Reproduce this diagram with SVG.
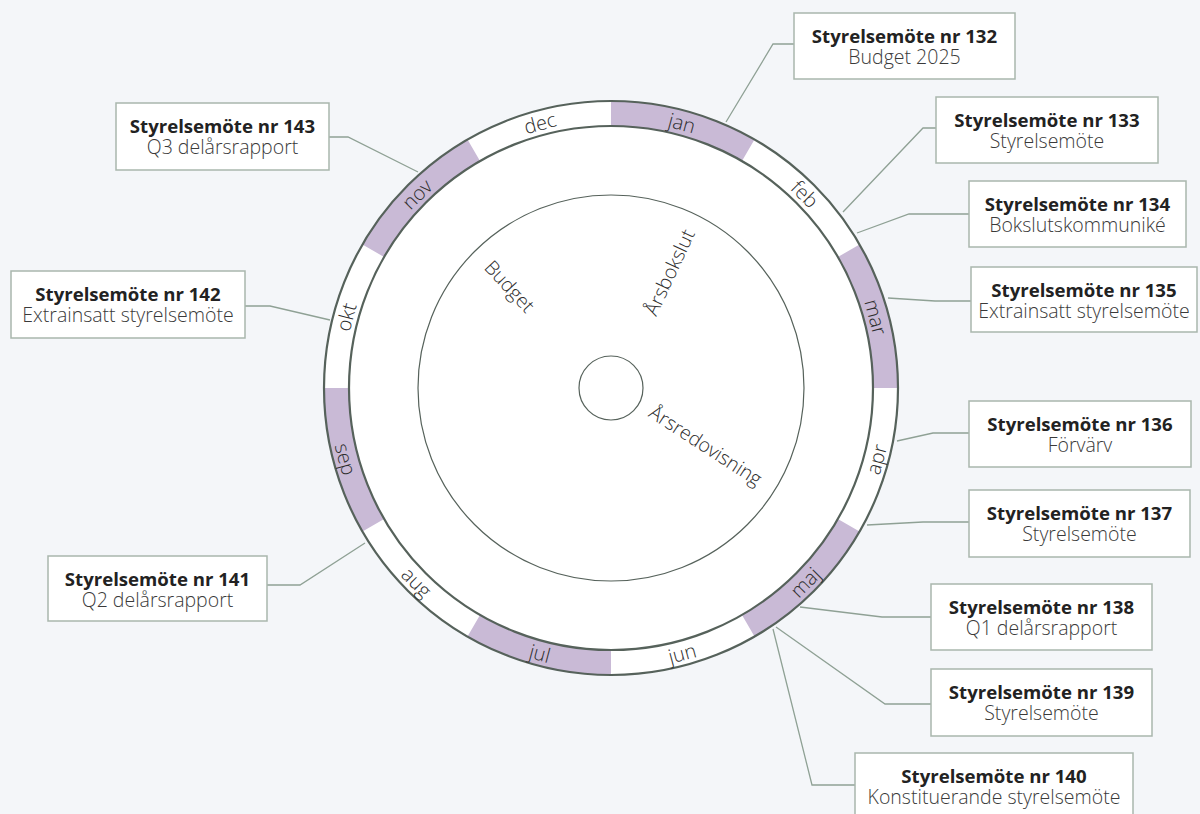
<svg xmlns="http://www.w3.org/2000/svg" width="1200" height="814" viewBox="0 0 1200 814">
<style>
.bg{fill:#f4f6f9}
.box{fill:#ffffff;stroke:#a9b7ad;stroke-width:1.5}
.t1{font-family:"Open Sans","Liberation Sans",sans-serif;font-weight:700;font-size:18.6px;fill:#222;text-anchor:middle}
.t2{font-family:"Open Sans","Liberation Sans",sans-serif;font-weight:300;font-size:19.5px;fill:#3a3a3a;text-anchor:middle}
.conn{fill:none;stroke:#8fa195;stroke-width:1.3}
.ring{fill:none;stroke:#56625b;stroke-width:2.2}
.thin{fill:none;stroke:#56625b;stroke-width:1.2}
.seg{fill:#c9bad6}
.ml{font-family:"Open Sans","Liberation Sans",sans-serif;font-weight:300;font-size:20px;fill:#2e2e2e;text-anchor:middle;dominant-baseline:central}
.pl{font-family:"Open Sans","Liberation Sans",sans-serif;font-weight:300;font-size:19.5px;fill:#2e2e2e;text-anchor:middle;dominant-baseline:central}
</style>
<rect class="bg" x="0" y="0" width="1200" height="814"/>

<g id="wheel">
<circle cx="611" cy="388" r="287" fill="#ffffff"/>
<path class="seg" d="M611,101 A287,287 0 0 1 754.5,139.45 L742,161.1 A262,262 0 0 0 611,126 Z"/>
<path class="seg" d="M859.55,244.5 A287,287 0 0 1 898,388 L873,388 A262,262 0 0 0 837.9,257 Z"/>
<path class="seg" d="M859.55,531.5 A287,287 0 0 1 754.5,636.55 L742,614.9 A262,262 0 0 0 837.9,519 Z"/>
<path class="seg" d="M611,675 A287,287 0 0 1 467.5,636.55 L480,614.9 A262,262 0 0 0 611,650 Z"/>
<path class="seg" d="M362.45,531.5 A287,287 0 0 1 324,388 L349,388 A262,262 0 0 0 384.1,519 Z"/>
<path class="seg" d="M362.45,244.5 A287,287 0 0 1 467.5,139.45 L480,161.1 A262,262 0 0 0 384.1,257 Z"/>
<circle class="ring" cx="611" cy="388" r="287"/>
<circle class="ring" cx="611" cy="388" r="262"/>
<circle class="thin" cx="611" cy="388" r="193"/>
<circle class="thin" cx="611" cy="388" r="32"/>
</g>

<g id="months">
<text class="ml" x="611" y="113.5" transform="rotate(15 611 388)">jan</text>
<text class="ml" x="611" y="113.5" transform="rotate(45 611 388)">feb</text>
<text class="ml" x="611" y="113.5" transform="rotate(75 611 388)">mar</text>
<text class="ml" x="611" y="662.5" transform="rotate(-75 611 388)">apr</text>
<text class="ml" x="611" y="662.5" transform="rotate(-45 611 388)">maj</text>
<text class="ml" x="611" y="662.5" transform="rotate(-15 611 388)">jun</text>
<text class="ml" x="611" y="662.5" transform="rotate(15 611 388)">jul</text>
<text class="ml" x="611" y="662.5" transform="rotate(45 611 388)">aug</text>
<text class="ml" x="611" y="662.5" transform="rotate(75 611 388)">sep</text>
<text class="ml" x="611" y="113.5" transform="rotate(-75 611 388)">okt</text>
<text class="ml" x="611" y="113.5" transform="rotate(-45 611 388)">nov</text>
<text class="ml" x="611" y="113.5" transform="rotate(-15 611 388)">dec</text>
</g>

<g id="phases">
<text class="pl" x="0" y="0" transform="translate(510 286) rotate(47)">Budget</text>
<text class="pl" x="0" y="0" transform="translate(669 272) rotate(-65)">Årsbokslut</text>
<text class="pl" x="0" y="0" transform="translate(706 445) rotate(33)">Årsredovisning</text>
</g>

<g id="connectors">
<polyline class="conn" points="726,122 773,44 794,44"/>
<polyline class="conn" points="843,212 923,128 936,128"/>
<polyline class="conn" points="857,233 909,214 969,214"/>
<polyline class="conn" points="888,298 935,301 971,301"/>
<polyline class="conn" points="897,441 933,433 969,433"/>
<polyline class="conn" points="867,525 923,522 969,522"/>
<polyline class="conn" points="800,607 882,617 931,617"/>
<polyline class="conn" points="776,627 885,704 931,704"/>
<polyline class="conn" points="773,629 812,785 855,785"/>
<polyline class="conn" points="365,543 300,585 267,585"/>
<polyline class="conn" points="330,320 270,306 245,306"/>
<polyline class="conn" points="418,172 348,137 329,137"/>
</g>

<g id="m132"><rect class="box" x="794" y="13" width="221" height="66"/><text class="t1" x="904.5" y="43">Styrelsemöte nr 132</text><text class="t2" x="904.5" y="64">Budget 2025</text></g>
<g id="m133"><rect class="box" x="936" y="97" width="222" height="66"/><text class="t1" x="1047" y="127">Styrelsemöte nr 133</text><text class="t2" x="1047" y="148">Styrelsemöte</text></g>
<g id="m134"><rect class="box" x="969" y="181" width="217" height="66"/><text class="t1" x="1077.5" y="211">Styrelsemöte nr 134</text><text class="t2" x="1077.5" y="232">Bokslutskommuniké</text></g>
<g id="m135"><rect class="box" x="971" y="267" width="226" height="65"/><text class="t1" x="1084" y="297">Styrelsemöte nr 135</text><text class="t2" x="1084" y="318">Extrainsatt styrelsemöte</text></g>
<g id="m136"><rect class="box" x="969" y="401" width="222" height="66"/><text class="t1" x="1080" y="431">Styrelsemöte nr 136</text><text class="t2" x="1080" y="452">Förvärv</text></g>
<g id="m137"><rect class="box" x="969" y="490" width="221" height="67"/><text class="t1" x="1079.5" y="520">Styrelsemöte nr 137</text><text class="t2" x="1079.5" y="541">Styrelsemöte</text></g>
<g id="m138"><rect class="box" x="931" y="584" width="221" height="66"/><text class="t1" x="1041.5" y="614">Styrelsemöte nr 138</text><text class="t2" x="1041.5" y="635">Q1 delårsrapport</text></g>
<g id="m139"><rect class="box" x="931" y="669" width="221" height="67"/><text class="t1" x="1041.5" y="699">Styrelsemöte nr 139</text><text class="t2" x="1041.5" y="720">Styrelsemöte</text></g>
<g id="m140"><rect class="box" x="855" y="753" width="278" height="66"/><text class="t1" x="994" y="783">Styrelsemöte nr 140</text><text class="t2" x="994" y="804">Konstituerande styrelsemöte</text></g>
<g id="m141"><rect class="box" x="48" y="556" width="219" height="65"/><text class="t1" x="157.5" y="586">Styrelsemöte nr 141</text><text class="t2" x="157.5" y="607">Q2 delårsrapport</text></g>
<g id="m142"><rect class="box" x="11" y="271" width="234" height="67"/><text class="t1" x="128" y="301">Styrelsemöte nr 142</text><text class="t2" x="128" y="322">Extrainsatt styrelsemöte</text></g>
<g id="m143"><rect class="box" x="116" y="103" width="213" height="67"/><text class="t1" x="222.5" y="133">Styrelsemöte nr 143</text><text class="t2" x="222.5" y="154">Q3 delårsrapport</text></g>
</svg>
